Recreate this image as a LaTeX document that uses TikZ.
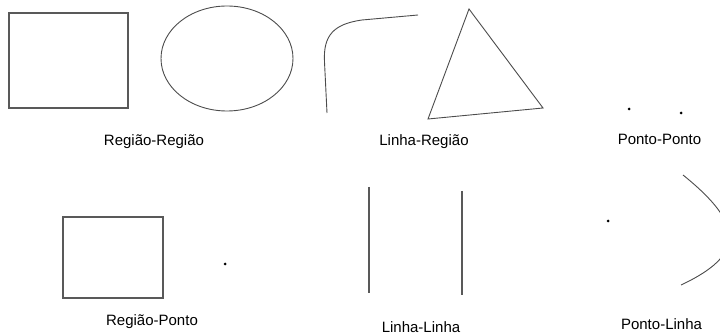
\documentclass[tikz,border=0pt]{standalone}
\usepackage{fontspec}
\setmainfont{Liberation Sans}
\begin{document}
\begin{tikzpicture}[x=1pt,y=-1pt,
  shape line/.style={draw=black!65,line width=1.1pt},
  thin line/.style={draw=black!70,line width=0.9pt},
  pt/.style={circle,fill=black,inner sep=0pt,minimum size=3pt},
  lbl/.style={font=\fontsize{15}{17}\selectfont,text=black,inner sep=0pt}]
\useasboundingbox (0,0) rectangle (720,336);
\clip (0,0) rectangle (720,336);
% Regiao-Regiao
\draw[shape line] (9,13) rectangle (128,108);
\draw[thin line] (227,58.5) ellipse [x radius=66, y radius=52.5];
\node[lbl] (rr) at (154,142) {Região-Região};
% Linha-Regiao
\draw[thin line] (327,113) -- (324.5,62) .. controls (323,35) and (334,24) .. (362,20) -- (418,15);
\draw[thin line] (469,9) -- (543,108) -- (428,119) -- cycle;
\node[lbl] (lr) at (424,142) {Linha-Região};
% Ponto-Ponto
\node[pt] (p1) at (629,109) {};
\node[pt] (p2) at (681,113) {};
\node[lbl] (pp) at (659.5,139) {Ponto-Ponto};
% Regiao-Ponto
\draw[shape line] (63,217) rectangle (163,298);
\node[pt] (p3) at (225,264) {};
\node[lbl] (rp) at (152,322) {Região-Ponto};
% Linha-Linha
\draw[shape line] (369,187) -- (369,293);
\draw[shape line] (462,191) -- (462,295);
\node[lbl] (ll) at (421,327) {Linha-Linha};
% Ponto-Linha
\node[pt] (p4) at (608,221) {};
\draw[thin line] (683,175) .. controls (745,225) and (745,255) .. (681,285);
\node[lbl] (pl) at (661.5,324) {Ponto-Linha};
\end{tikzpicture}
\end{document}
